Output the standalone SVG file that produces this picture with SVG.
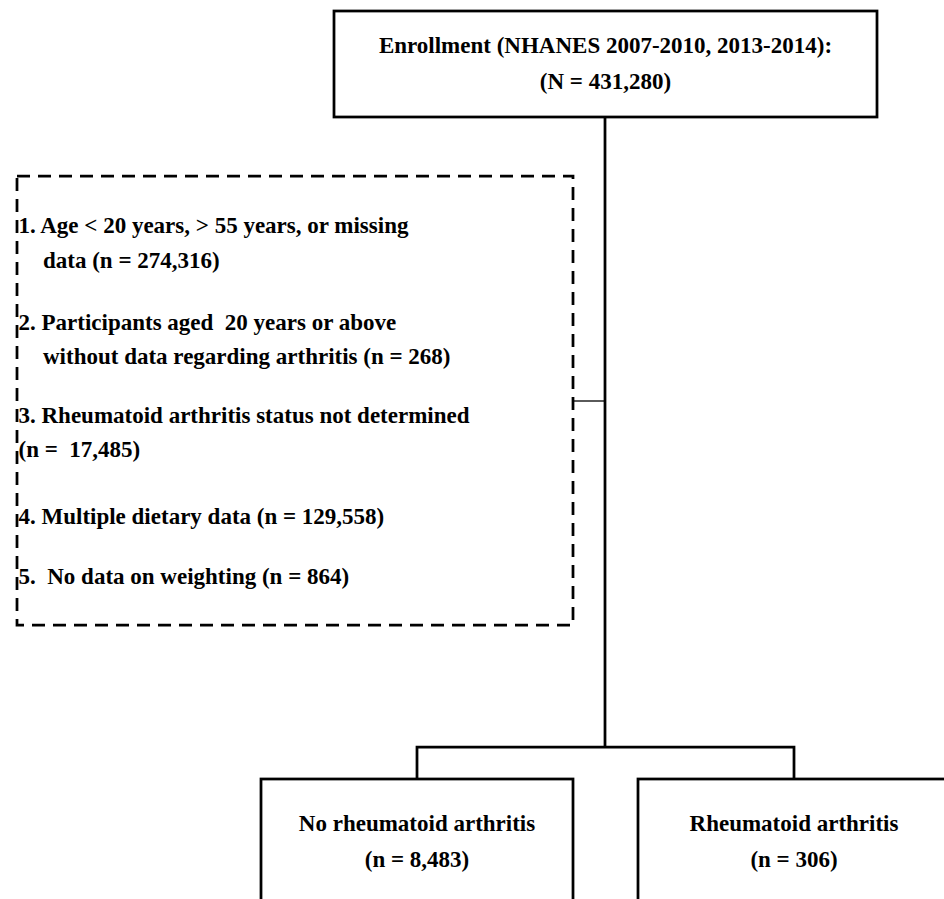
<svg xmlns="http://www.w3.org/2000/svg" width="944" height="899" viewBox="0 0 944 899">
  <style>
    .box { fill: #ffffff; stroke: #000000; stroke-width: 2.75; }
    .dashbox { fill: #ffffff; stroke: #000000; stroke-width: 2.75; stroke-dasharray: 13 8; }
    .conn { fill: none; stroke: #000000; stroke-width: 2.75; }
    .thin { fill: none; stroke: #000000; stroke-width: 1.3; }
    text { font-family: "Liberation Serif", "Times New Roman", serif; font-weight: bold; font-size: 23px; fill: #000000; white-space: pre; }
    .c { text-anchor: middle; }
  </style>
  <rect width="944" height="899" fill="#ffffff"/>
  <g id="connectors">
    <line class="conn" x1="605" y1="117" x2="605" y2="747"/>
    <line class="thin" x1="573" y1="401" x2="605" y2="401"/>
    <polyline class="conn" points="417,779 417,747 794,747 794,779"/>
  </g>
  <g id="enrollment">
    <rect class="box" x="334" y="11" width="543" height="106"/>
    <text class="c" x="605.5" y="53">Enrollment (NHANES 2007-2010, 2013-2014):</text>
    <text class="c" x="605.5" y="89">(N = 431,280)</text>
  </g>
  <g id="exclusions">
    <rect class="dashbox" x="17" y="176" width="556" height="449"/>
    <text x="18.5" y="233" xml:space="preserve">1. Age &lt; 20 years, &gt; 55 years, or missing</text>
    <text x="43" y="268">data (n = 274,316)</text>
    <text x="18.5" y="330" xml:space="preserve">2. Participants aged  20 years or above</text>
    <text x="43" y="364">without data regarding arthritis (n = 268)</text>
    <text x="18.5" y="423">3. Rheumatoid arthritis status not determined</text>
    <text x="18.5" y="457" xml:space="preserve">(n =  17,485)</text>
    <text x="18.5" y="524">4. Multiple dietary data (n = 129,558)</text>
    <text x="18.5" y="584" xml:space="preserve">5.  No data on weighting (n = 864)</text>
  </g>
  <g id="no-ra">
    <rect class="box" x="261" y="779" width="312" height="140"/>
    <text class="c" x="417" y="831">No rheumatoid arthritis</text>
    <text class="c" x="417" y="867">(n = 8,483)</text>
  </g>
  <g id="ra">
    <rect class="box" x="638" y="779" width="312" height="140"/>
    <text class="c" x="794" y="831">Rheumatoid arthritis</text>
    <text class="c" x="794" y="867">(n = 306)</text>
  </g>
</svg>
